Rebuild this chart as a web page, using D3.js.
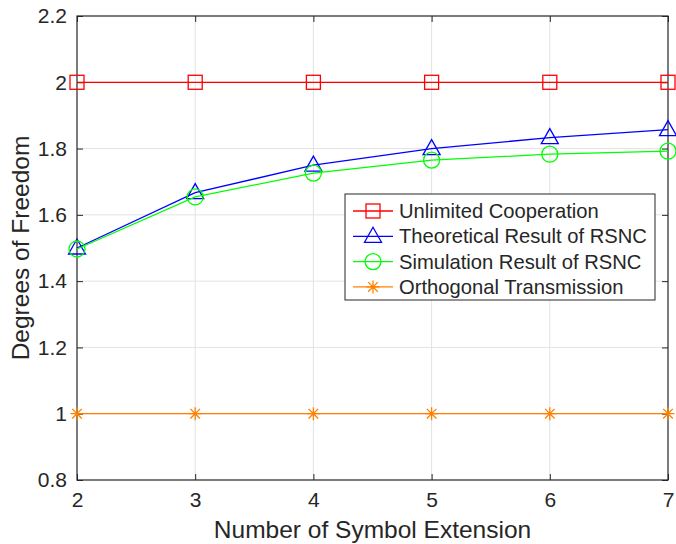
<!DOCTYPE html>
<html>
<head>
<meta charset="utf-8">
<script src="https://cdn.jsdelivr.net/npm/d3@7"></script>
<style>
  body { margin: 0; background: #fff; }
  text { font-family: "Liberation Sans", Arial, sans-serif; fill: #262626; }
</style>
</head>
<body>
<svg id="chart" width="676" height="544"></svg>
<script>
// symbol extension (x axis)
const extension = [2, 3, 4, 5, 6, 7];
const unlimited = [2, 2, 2, 2, 2, 2];
const theoretical = [1.5, 1.667, 1.75, 1.8, 1.833, 1.857];
const simulation = [1.497, 1.654, 1.726, 1.765, 1.783, 1.792];
const orthogonal = [1, 1, 1, 1, 1, 1];
const yTicks = [0.8, 1, 1.2, 1.4, 1.6, 1.8, 2, 2.2];
const yTickLabels = ["0.8", "1", "1.2", "1.4", "1.6", "1.8", "2", "2.2"];

const series = [
    {name: "Unlimited Cooperation", values: unlimited, color: "#ff0000", marker: "square"},
    {name: "Theoretical Result of RSNC", values: theoretical, color: "#0000ff", marker: "triangle"},
    {name: "Simulation Result of RSNC", values: simulation, color: "#00ff00", marker: "circle"},
    {name: "Orthogonal Transmission", values: orthogonal, color: "#ff8000", marker: "star"}
];

const marginLeft = 77;
const marginRight = 8;
const marginTop = 16;
const marginBottom = 64;
const width = 676;
const height = 544;

const svg = d3.select("#chart");

const xscale = d3.scaleLinear()
    .domain([2, 7])
    .range([marginLeft, width - marginRight]);

const yscale = d3.scaleLinear()
    .domain([0.8, 2.2])
    .range([height - marginBottom, marginTop]);

const x0 = xscale.range()[0], x1 = xscale.range()[1];
const y0 = yscale.range()[0], y1 = yscale.range()[1];

// grid
const grid = svg.append("g").attr("stroke", "#e3e3e3").attr("stroke-width", 1);
grid.selectAll(".gx").data(extension.slice(1, -1)).join("line")
    .attr("x1", d => xscale(d)).attr("x2", d => xscale(d))
    .attr("y1", y0).attr("y2", y1);
grid.selectAll(".gy").data(yTicks.slice(1, -1)).join("line")
    .attr("x1", x0).attr("x2", x1)
    .attr("y1", d => yscale(d)).attr("y2", d => yscale(d));

// axes, ticks pointing inward on all four sides
const tickLen = 6;
const axes = svg.append("g");

axes.append("g")
    .attr("transform", `translate(${[0, y0]})`)
    .call(d3.axisBottom(xscale).tickValues(extension).tickSize(-tickLen).tickPadding(12).tickFormat(d3.format("d")))
    .call(g => g.select(".domain").remove())
    .attr("font-size", 21);

axes.append("g")
    .attr("transform", `translate(${[0, y1]})`)
    .call(d3.axisTop(xscale).tickValues(extension).tickSize(-tickLen).tickFormat(""))
    .call(g => g.select(".domain").remove());

axes.append("g")
    .attr("transform", `translate(${[x0, 0]})`)
    .call(d3.axisLeft(yscale).tickValues(yTicks).tickSize(-tickLen).tickPadding(10)
        .tickFormat((d, i) => yTickLabels[i]))
    .call(g => g.select(".domain").remove())
    .attr("font-size", 21);

axes.append("g")
    .attr("transform", `translate(${[x1, 0]})`)
    .call(d3.axisRight(yscale).tickValues(yTicks).tickSize(-tickLen).tickFormat(""))
    .call(g => g.select(".domain").remove());

axes.selectAll(".tick line").attr("stroke", "#262626");
axes.selectAll(".tick text").attr("fill", "#262626").attr("font-family", "Liberation Sans, Arial, sans-serif");

// box
svg.append("rect")
    .attr("x", x0).attr("y", y1)
    .attr("width", x1 - x0).attr("height", y0 - y1)
    .attr("fill", "none").attr("stroke", "#262626").attr("stroke-width", 1.2);

// markers
function drawMarker(g, type, color) {
    if (type === "square") {
        g.append("rect").attr("x", -7).attr("y", -7).attr("width", 14).attr("height", 14)
            .attr("fill", "none").attr("stroke", color).attr("stroke-width", 1.3);
    } else if (type === "triangle") {
        g.append("path").attr("d", "M0,-9L8.5,6L-8.5,6Z")
            .attr("fill", "none").attr("stroke", color).attr("stroke-width", 1.3);
    } else if (type === "circle") {
        g.append("circle").attr("r", 8)
            .attr("fill", "none").attr("stroke", color).attr("stroke-width", 1.3);
    } else if (type === "star") {
        g.append("path").attr("d", "M-6.5,0H6.5M0,-6.5V6.5M-4.8,-4.8L4.8,4.8M-4.8,4.8L4.8,-4.8")
            .attr("fill", "none").attr("stroke", color).attr("stroke-width", 1.3);
    }
}

const line = d3.line()
    .x((d, i) => xscale(extension[i]))
    .y(d => yscale(d));

const plots = svg.append("g");
series.forEach(s => {
    plots.append("path")
        .attr("d", line(s.values))
        .attr("fill", "none")
        .attr("stroke", s.color)
        .attr("stroke-width", 1.3);
    s.values.forEach((v, i) => {
        const m = plots.append("g").attr("transform", `translate(${[xscale(extension[i]), yscale(v)]})`);
        drawMarker(m, s.marker, s.color);
    });
});

// legend
const legend = svg.append("g").attr("transform", "translate(345,194)");
legend.append("rect")
    .attr("width", 310).attr("height", 106)
    .attr("fill", "#fff").attr("stroke", "#262626").attr("stroke-width", 1);

series.forEach((s, i) => {
    const yy = 17 + i * 25.3;
    legend.append("line")
        .attr("x1", 8).attr("x2", 48).attr("y1", yy).attr("y2", yy)
        .attr("stroke", s.color).attr("stroke-width", 1.3);
    const m = legend.append("g").attr("transform", `translate(${[28, yy]})`);
    drawMarker(m, s.marker, s.color);
    legend.append("text")
        .attr("x", 54).attr("y", yy)
        .attr("dy", "0.35em")
        .attr("font-size", 20.2)
        .attr("fill", "#000")
        .text(s.name);
});

// axis labels
svg.append("text")
    .attr("x", (x0 + x1) / 2).attr("y", 538)
    .attr("text-anchor", "middle")
    .attr("font-size", 24.5)
    .text("Number of Symbol Extension");

svg.append("text")
    .attr("transform", `translate(${[29, (y0 + y1) / 2]}) rotate(-90)`)
    .attr("text-anchor", "middle")
    .attr("font-size", 24.5)
    .text("Degrees of Freedom");
</script>
</body>
</html>
